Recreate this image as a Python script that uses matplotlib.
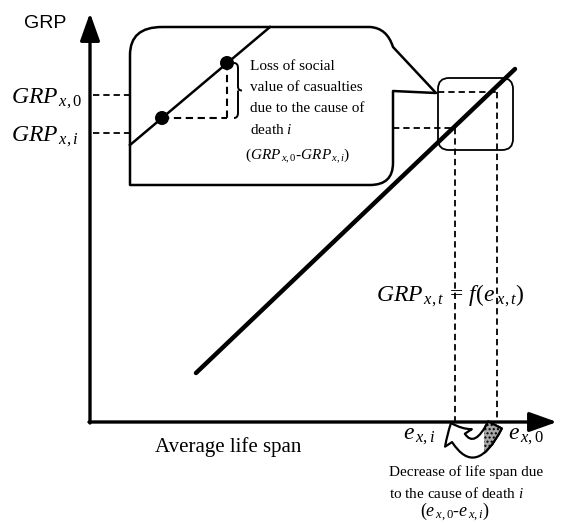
import matplotlib
matplotlib.use("Agg")
import matplotlib.pyplot as plt
from matplotlib.path import Path
from matplotlib.patches import PathPatch, FancyBboxPatch, FancyArrowPatch, Rectangle, Circle

plt.rcParams["mathtext.fontset"] = "custom"
plt.rcParams["mathtext.rm"] = "Liberation Serif"
plt.rcParams["mathtext.it"] = "Liberation Serif:italic"
plt.rcParams["mathtext.bf"] = "Liberation Serif:bold"

# Schema-Werte (Diagramm-Einheiten = Pixel, y nach unten)
origin = (90, 422)
x_axis_end = 557
y_axis_end = 13
func_x = [196, 515]          # GRP = f(e), Endpunkte der Geraden
func_y = [373, 69]
e_values = [455, 497]        # e_x,i , e_x,0
grp_values = [128, 92]       # GRP_x,i , GRP_x,0 (rechts)
grp_label_levels = [133, 95] # Hilfslinien links
zoom_x = [130, 270]          # Gerade in der Lupe
zoom_y = [145, 27]
zoom_dot_x = [162, 227]
zoom_dot_y = [118, 63]

serif = "Liberation Serif"

fig = plt.figure(figsize=(5.67, 5.23), dpi=100)
ax = fig.add_axes([0, 0, 1, 1])
ax.set_xlim(0, 567)
ax.set_ylim(523, 0)
ax.axis("off")

# Achsen mit Pfeilen
arrow_kw = dict(arrowstyle="-|>,head_length=1.4,head_width=0.5", lw=2.4, color="black",
                mutation_scale=12, shrinkA=0, shrinkB=0)
ax.annotate("", xy=(origin[0], y_axis_end), xytext=(origin[0], origin[1] + 1), arrowprops=arrow_kw)
ax.annotate("", xy=(x_axis_end, origin[1]), xytext=(origin[0] - 1, origin[1]), arrowprops=arrow_kw)

# Hauptgerade
ax.plot(func_x, func_y, color="black", lw=3.2, solid_capstyle="round", zorder=5)

# gestrichelte Hilfslinien rechts
dash = (0, (3.5, 2.2))
ax.plot([393, e_values[0]], [grp_values[0]] * 2, color="black", lw=1.3, linestyle=dash)
ax.plot([438, e_values[1]], [grp_values[1]] * 2, color="black", lw=1.3, linestyle=dash)
for e, g in zip(e_values, grp_values):
    ax.plot([e, e], [g, origin[1]], color="black", lw=1.3, linestyle=dash)

# Hilfslinien links
for lev in grp_label_levels:
    ax.plot([origin[0] + 3, 130], [lev, lev], color="black", lw=1.3, linestyle=dash)

# kleines Rechteck um den Ausschnitt
ax.add_patch(FancyBboxPatch((438, 78), 75, 72, boxstyle="round,pad=0,rounding_size=11",
                            fc="none", ec="black", lw=1.3, zorder=3))

# Lupen-Blase mit Zeiger
verts = [(130, 185), (130, 55), (130, 27), (162, 27), (370, 27), (387, 28), (393, 47),
         (436, 93), (393, 91), (393, 163), (393, 185), (370, 185), (130, 185)]
codes = [Path.MOVETO, Path.LINETO, Path.CURVE3, Path.CURVE3, Path.LINETO, Path.CURVE3, Path.CURVE3,
         Path.LINETO, Path.LINETO, Path.LINETO, Path.CURVE3, Path.CURVE3, Path.CLOSEPOLY]
ax.add_patch(PathPatch(Path(verts, codes), fc="none", ec="black", lw=1.8, joinstyle="round"))

# Inhalt der Lupe
ax.plot(zoom_x, zoom_y, color="black", lw=1.8)
ax.plot([zoom_dot_x[0], zoom_dot_x[1]], [zoom_dot_y[0]] * 2, color="black", lw=1.5, linestyle=dash)
ax.plot([zoom_dot_x[1]] * 2, [zoom_dot_y[1], zoom_dot_y[0]], color="black", lw=1.5, linestyle=dash)
for dx, dy in zip(zoom_dot_x, zoom_dot_y):
    ax.add_patch(Circle((dx, dy), 7, fc="black", ec="none", zorder=6))

# geschweifte Klammer
bx, by0, by1 = 234, zoom_dot_y[1], zoom_dot_y[0]
bm = (by0 + by1) / 2
bverts = [(bx, by0), (bx + 4, by0), (bx + 4, by0 + 5), (bx + 4, bm - 4), (bx + 4, bm), (bx + 8, bm),
          (bx + 4, bm), (bx + 4, bm + 4), (bx + 4, by1 - 5), (bx + 4, by1), (bx, by1)]
bcodes = [Path.MOVETO, Path.CURVE3, Path.CURVE3, Path.LINETO, Path.CURVE3, Path.CURVE3,
          Path.MOVETO, Path.CURVE3, Path.LINETO, Path.CURVE3, Path.CURVE3]
ax.add_patch(PathPatch(Path(bverts, bcodes), fc="none", ec="black", lw=1.4))

bubble_lines = ["Loss of social", "value of casualties", "due to the cause of", "death $i$"]
for i, s in enumerate(bubble_lines):
    ax.text(250, 66 + 21.5 * i, s, fontsize=11, family=serif, va="center", ha="left")
ax.text(245, 156, r"$(GRP_{\mathit{\,x,0}}$-$GRP_{\mathit{\,x,i}})$", fontsize=11, family=serif,
        va="center", ha="left")

# geschwungener Pfeil unter der x-Achse
arc_kw = dict(posA=(495, 425), posB=(451, 423), connectionstyle="arc3,rad=-1.1",
              arrowstyle="simple,head_length=1.2,head_width=2.3,tail_width=1.1",
              mutation_scale=10, lw=1.6, shrinkA=0, shrinkB=0)
ax.add_patch(FancyArrowPatch(fc="white", ec="black", zorder=4, **arc_kw))
shade = FancyArrowPatch(fc="#a8a8a8", ec="black", zorder=4.5, hatch="....", **arc_kw)
ax.add_patch(shade)
shade.set_clip_path(Rectangle((484, 410), 40, 60, transform=ax.transData))

# Beschriftungen
ax.text(24, 23, "GRP", fontsize=14, family="Liberation Sans", va="center", ha="left")
ax.text(11, 103, r"$GRP_{\mathit{\,x,0}}$", fontsize=17, ha="left", va="baseline")
ax.text(11, 141, r"$GRP_{\mathit{\,x,i}}$", fontsize=17, ha="left", va="baseline")
ax.text(376, 301, r"$GRP_{\mathit{\,x,t}}\,=\,f(e_{\mathit{\;x,t}})$", fontsize=17,
        ha="left", va="baseline")
ax.text(403, 439, r"$e_{\mathit{\,x,i}}$", fontsize=17, ha="left", va="baseline")
ax.text(508, 439, r"$e_{\mathit{\,x,0}}$", fontsize=17, ha="left", va="baseline")
ax.text(155, 452, "Average life span", fontsize=15, family=serif, ha="left", va="baseline")

ax.text(389, 472, "Decrease of life span due", fontsize=11, family=serif, va="center", ha="left")
ax.text(389, 493, "to the cause of death $i$", fontsize=11, family=serif, va="center", ha="left")
ax.text(420, 512, r"$(e_{\mathit{\,x,0}}$-$e_{\mathit{\,x,i}})$", fontsize=13, family=serif,
        va="center", ha="left")

fig.savefig("out.png", dpi=100)
